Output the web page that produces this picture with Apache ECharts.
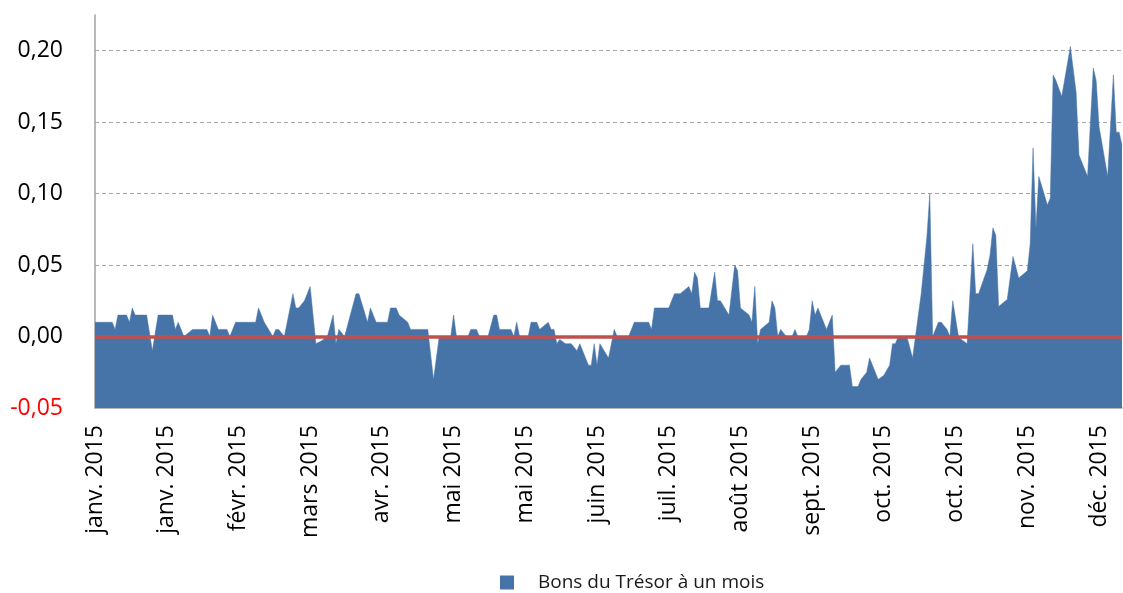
<!DOCTYPE html>
<html>
<head>
<meta charset="utf-8">
<script src="https://cdn.jsdelivr.net/npm/echarts@6/dist/echarts.min.js"></script>
<style>
    html, body { margin: 0; padding: 0; background: #fff; }
    #main { width: 1123px; height: 593px; }
</style>
</head>
<body>
<div id="main"></div>
<script>
// jour de l'année (0 = 1er janvier 2015)
var days = [
    0, 6, 7, 8, 11, 12, 13, 14, 18, 20, 22, 27, 28, 29, 31, 34, 39, 40, 41, 43, 46, 47, 49,
    56, 57, 59, 62, 63, 64, 66, 69, 70, 71, 73, 75, 77, 79, 81, 83, 84, 85, 87, 89, 91, 92,
    95, 96, 98, 102, 103, 105, 106, 109, 110, 116, 118, 120, 124, 125, 126, 130, 131, 133, 134, 137, 139, 140,
    141, 145, 146, 147, 148, 151, 152, 154, 155, 158, 159, 160, 161, 162, 164, 166, 168, 169, 172, 173, 174, 175, 176, 179, 181, 182, 186, 188,
    193, 194, 195, 200, 202, 204, 207, 208, 209, 210, 211, 214, 216, 217, 218, 221, 223, 224, 225, 228, 229, 230, 231, 232, 235,
    236, 237, 238, 239, 241, 243, 244, 245, 248, 249, 250, 251, 252, 255, 257, 258, 260, 263, 264, 266, 267, 269, 270, 273, 275, 277, 278, 279, 280,
    283, 285, 288, 290, 291, 292, 294, 295, 297, 298, 299, 301, 302, 304, 306, 307, 308, 311, 312, 313, 314, 315,
    318, 320, 322, 325, 326, 327, 328, 329, 332, 333, 334, 335, 337, 340, 342, 343, 346, 348, 349, 350, 353, 355, 356, 357, 358
];
// Bons du Trésor à un mois (%)
var rates = [
    0.01, 0.01, 0.005, 0.015, 0.015, 0.01, 0.02, 0.015, 0.015, -0.01, 0.015, 0.015, 0.005, 0.01, 0, 0.005, 0.005, 0, 0.015, 0.005, 0.005, 0, 0.01,
    0.01, 0.02, 0.01, 0, 0.005, 0.005, 0, 0.03, 0.02, 0.02, 0.025, 0.035, -0.005, -0.003, 0, 0.015, -0.005, 0.005, 0, 0.015, 0.03, 0.03,
    0.01, 0.02, 0.01, 0.01, 0.02, 0.02, 0.015, 0.01, 0.005, 0.005, -0.03, 0, 0, 0.015, 0, 0, 0.005, 0.005, 0, 0, 0.015, 0.015,
    0.005, 0.005, 0, 0.01, 0, 0, 0.01, 0.01, 0.005, 0.01, 0.005, 0.005, -0.005, -0.002, -0.005, -0.005, -0.01, -0.005, -0.02, -0.02, -0.005, -0.02, -0.005, -0.015, 0.005, 0, 0, 0.01,
    0.01, 0.005, 0.02, 0.02, 0.03, 0.03, 0.035, 0.03, 0.045, 0.041, 0.02, 0.02, 0.045, 0.025, 0.025, 0.015, 0.05, 0.046, 0.02, 0.015, 0.01, 0.035, -0.005, 0.005, 0.01,
    0.025, 0.02, 0, 0.005, 0, 0, 0.005, 0, 0, 0.005, 0.025, 0.015, 0.02, 0.005, 0.015, -0.025, -0.02, -0.02, -0.035, -0.035, -0.03, -0.025, -0.015, -0.03, -0.027, -0.02, -0.005, -0.005, 0,
    0, -0.015, 0.03, 0.07, 0.1, 0, 0.01, 0.01, 0.005, 0, 0.025, 0, -0.002, -0.005, 0.065, 0.03, 0.03, 0.047, 0.057, 0.076, 0.071, 0.021,
    0.026, 0.056, 0.041, 0.046, 0.065, 0.132, 0.076, 0.112, 0.092, 0.097, 0.183, 0.179, 0.168, 0.203, 0.171, 0.127, 0.112, 0.188, 0.179, 0.147, 0.112, 0.183, 0.143, 0.143, 0.134
];
// un libellé tous les 25 jours
var xTickLabels = ['janv. 2015', 'janv. 2015', 'févr. 2015', 'mars 2015', 'avr. 2015', 'mai 2015', 'mai 2015',
    'juin 2015', 'juil. 2015', 'août 2015', 'sept. 2015', 'oct. 2015', 'oct. 2015', 'nov. 2015', 'déc. 2015'];
var seriesName = 'Bons du Trésor à un mois';

var seriesData = days.map(function (d, i) {
    return [d, rates[i]];
});

var myChart = echarts.init(document.getElementById('main'));

var option = {
    animation: false,
    textStyle: {
        fontFamily: 'Open Sans'
    },
    grid: {
        left: 95,
        right: 1,
        top: 15,
        bottom: 185,
        outerBoundsMode: 'none'
    },
    legend: {
        data: [{name: seriesName, icon: 'rect'}],
        left: 495,
        top: 568,
        itemWidth: 14,
        itemHeight: 14,
        textStyle: {
            fontSize: 19,
            color: '#1a1a1a',
            padding: [0, 0, 0, 19]
        }
    },
    xAxis: {
        type: 'value',
        min: 0,
        max: 358,
        interval: 25,
        axisLine: {
            onZero: false,
            lineStyle: {
                color: '#a0a0a0',
                width: 1.5
            }
        },
        axisTick: {show: false},
        splitLine: {show: false},
        axisLabel: {
            rotate: 90,
            margin: 17,
            fontSize: 23,
            color: '#000',
            showMaxLabel: false,
            formatter: function (value) {
                var label = xTickLabels[Math.round(value / 25)];
                return (value % 25 === 0 && label) ? label : '';
            }
        }
    },
    yAxis: {
        type: 'value',
        min: -0.05,
        max: 0.225,
        interval: 0.05,
        axisLine: {
            show: true,
            lineStyle: {
                color: '#a0a0a0',
                width: 1.5
            }
        },
        axisTick: {show: false},
        splitLine: {
            show: true,
            showMinLine: false,
            showMaxLine: false,
            lineStyle: {
                color: '#a6a6a6',
                type: [4, 3],
                width: 1.2
            }
        },
        axisLabel: {
            margin: 32,
            fontSize: 23,
            showMaxLabel: false,
            color: function (value) {
                return Number(value) < 0 ? '#ff0000' : '#000';
            },
            formatter: function (value) {
                return value.toFixed(2).replace('.', ',');
            }
        }
    },
    series: [{
        name: seriesName,
        type: 'line',
        data: seriesData,
        showSymbol: false,
        symbol: 'none',
        itemStyle: {color: '#4674a8'},
        lineStyle: {color: '#4674a8', width: 0.5},
        areaStyle: {color: '#4674a8', opacity: 1, origin: 'start'},
        markLine: {
            silent: true,
            symbol: ['none', 'none'],
            label: {show: false},
            lineStyle: {color: '#c0504d', width: 3.5, type: 'solid'},
            data: [{yAxis: 0}]
        }
    }]
};

myChart.setOption(option);
</script>
</body>
</html>
